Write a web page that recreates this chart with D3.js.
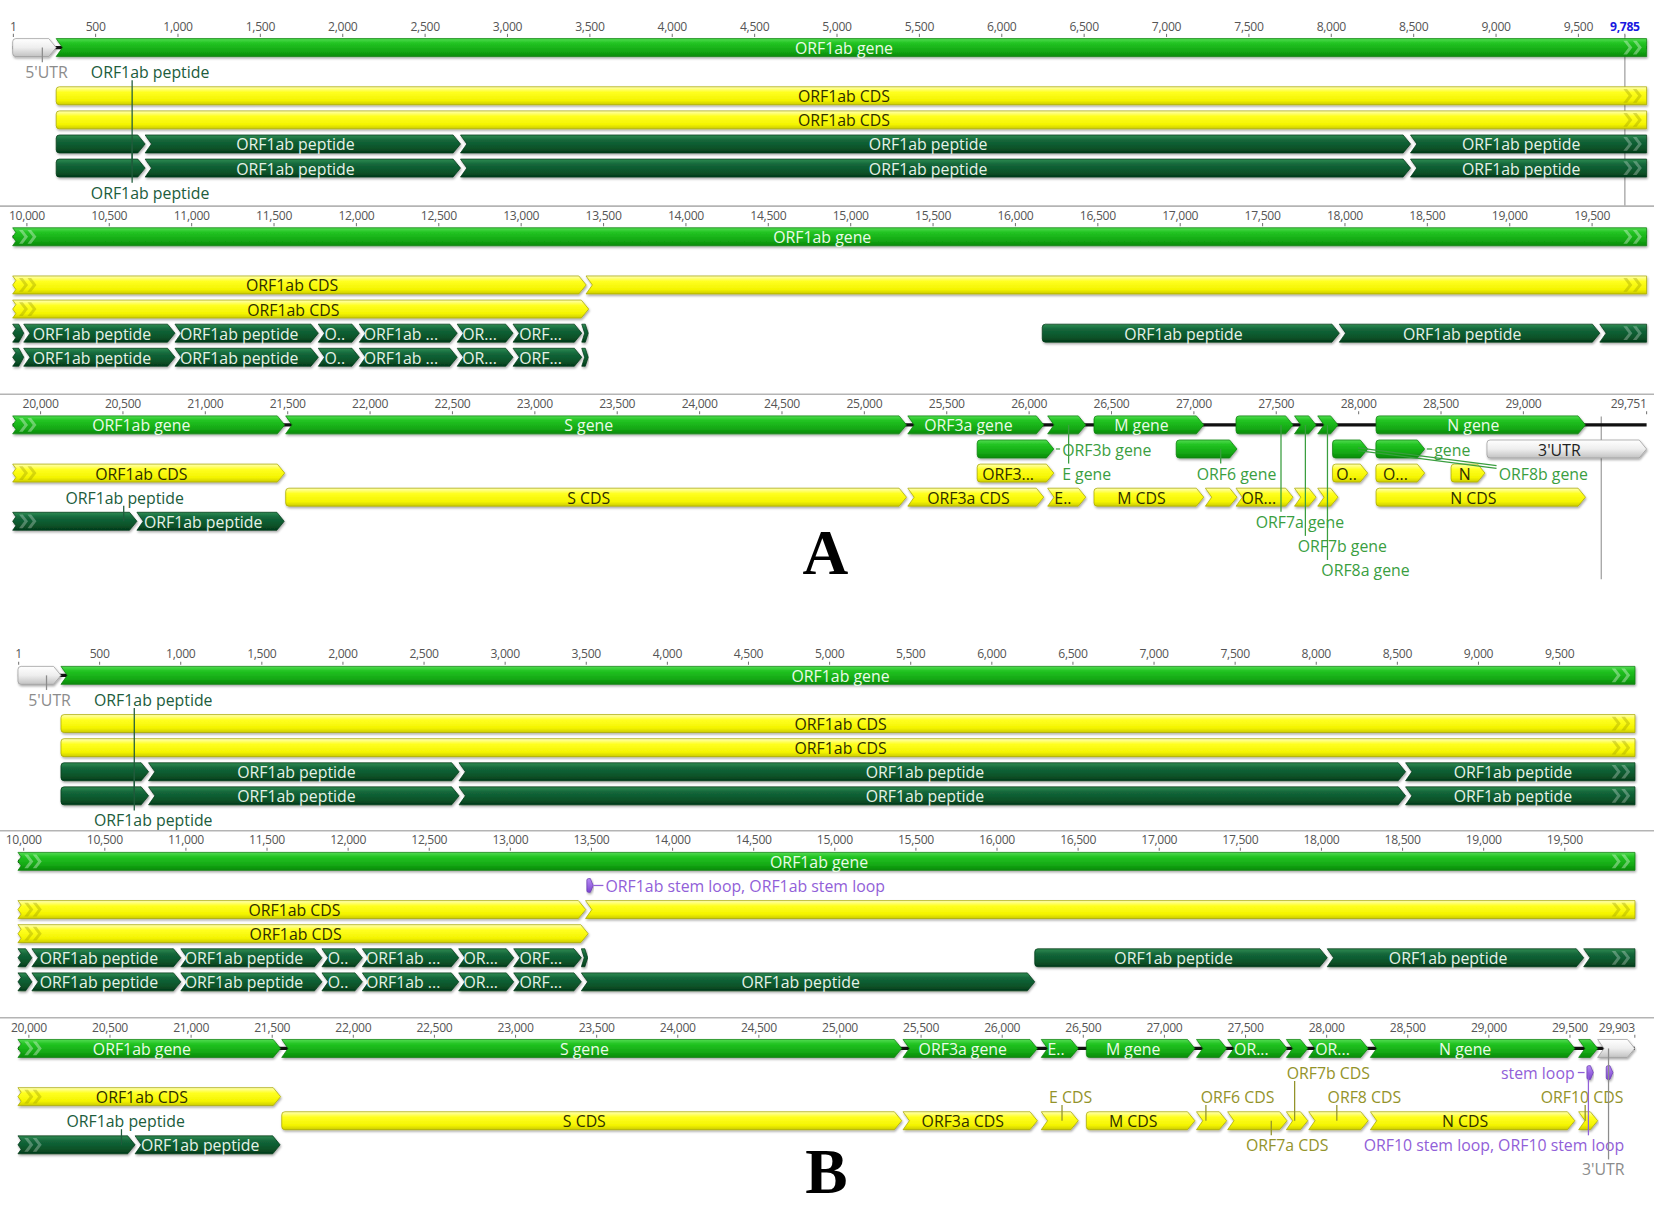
<!DOCTYPE html>
<html><head><meta charset="utf-8">
<script src="https://cdn.jsdelivr.net/npm/d3@7/dist/d3.min.js"></script>
<style>body{margin:0;background:#fff}svg{display:block}</style>
</head><body>
<svg id="c" width="1654" height="1207" viewBox="0 0 1565 1142"></svg>
<script>
// ================= DATA =================
const genomeLengthA = 29751;
const genomeLengthB = 29903;
const tickStep = 500;

// Panel A (SARS-CoV) — lanes: 0 gene, 1 gene(2nd), 2 CDS, 3 CDS, 4 peptide, 5 peptide
const genesA = [
  {name:"5'UTR", type:"utr", lane:0, start:1, end:264, label:""},
  {name:"ORF1ab gene", type:"gene", lane:0, start:265, end:21485, label:"ORF1ab gene"},
  {name:"S gene", type:"gene", lane:0, start:21492, end:25259, label:"S gene"},
  {name:"ORF3a gene", type:"gene", lane:0, start:25268, end:26092, label:"ORF3a gene"},
  {name:"E gene", type:"gene", lane:0, start:26117, end:26347, label:""},
  {name:"M gene", type:"gene", lane:0, start:26398, end:27063, label:"M gene"},
  {name:"ORF7a gene", type:"gene", lane:0, start:27260, end:27605, label:""},
  {name:"ORF7b gene", type:"gene", lane:0, start:27615, end:27745, label:""},
  {name:"ORF8a gene", type:"gene", lane:0, start:27756, end:27878, label:""},
  {name:"N gene", type:"gene", lane:0, start:28110, end:29380, label:"N gene"},
  {name:"ORF3b gene", type:"gene", lane:1, start:25689, end:26153, label:""},
  {name:"ORF6 gene", type:"gene", lane:1, start:26897, end:27265, label:""},
  {name:"ORF8b gene", type:"gene", lane:1, start:27846, end:28058, label:""},
  {name:"ORF9b gene", type:"gene", lane:1, start:28109, end:28404, label:""},
  {name:"3'UTR", type:"utr", lane:1, start:28783, end:29751, label:"3'UTR"}
];
const cdsA = [
  {name:"ORF1ab CDS", group:"orf1ab", lane:2, start:265, end:13398, label:"ORF1ab CDS"},
  {name:"ORF1ab CDS", group:"orf1ab", lane:2, start:13398, end:21485, label:"ORF1ab CDS"},
  {name:"ORF3b CDS", lane:2, start:25689, end:26153, label:"ORF3..."},
  {name:"ORF8b CDS", lane:2, start:27846, end:28058, label:"O.."},
  {name:"ORF9b CDS", lane:2, start:28109, end:28404, label:"O..."},
  {name:"N CDS 2", lane:2, start:28565, end:28770, label:"N"},
  {name:"ORF1a CDS", lane:3, start:265, end:13413, label:"ORF1ab CDS"},
  {name:"S CDS", lane:3, start:21492, end:25259, label:"S CDS"},
  {name:"ORF3a CDS", lane:3, start:25268, end:26092, label:"ORF3a CDS"},
  {name:"E CDS", lane:3, start:26117, end:26347, label:"E.."},
  {name:"M CDS", lane:3, start:26398, end:27063, label:"M CDS"},
  {name:"ORF6 CDS", lane:3, start:27074, end:27265, label:""},
  {name:"ORF7a CDS", lane:3, start:27260, end:27605, label:"OR..."},
  {name:"ORF7b CDS", lane:3, start:27615, end:27745, label:""},
  {name:"ORF8a CDS", lane:3, start:27756, end:27878, label:""},
  {name:"N CDS", lane:3, start:28110, end:29380, label:"N CDS"}
];
const peptidesA = [
  {name:"nsp1", start:265, end:804, label:"", lanes:[4,5]},
  {name:"nsp2", start:805, end:2718, label:"ORF1ab peptide", lanes:[4,5]},
  {name:"nsp3", start:2719, end:8484, label:"ORF1ab peptide", lanes:[4,5]},
  {name:"nsp4", start:8485, end:9984, label:"ORF1ab peptide", lanes:[4,5]},
  {name:"nsp5", start:9985, end:10902, label:"ORF1ab peptide", lanes:[4,5]},
  {name:"nsp6", start:10903, end:11772, label:"ORF1ab peptide", lanes:[4,5]},
  {name:"nsp7", start:11773, end:12021, label:"O..", lanes:[4,5]},
  {name:"nsp8", start:12022, end:12615, label:"ORF1ab ...", lanes:[4,5]},
  {name:"nsp9", start:12616, end:12954, label:"OR...", lanes:[4,5]},
  {name:"nsp10", start:12955, end:13371, label:"ORF...", lanes:[4,5]},
  {name:"nsp11", start:13372, end:13410, label:"", lanes:[4,5]},
  {name:"nsp13", start:16167, end:17969, label:"ORF1ab peptide", lanes:[4]},
  {name:"nsp14", start:17970, end:19550, label:"ORF1ab peptide", lanes:[4]},
  {name:"nsp15", start:19551, end:20588, label:"ORF1ab peptide", lanes:[4]},
  {name:"nsp16", start:20589, end:21482, label:"ORF1ab peptide", lanes:[4]}
];
const calloutsA = [
  {text:"5'UTR", kind:"utr", leaderBp:180, barLane:0, textBp:205, textLane:1, anchor:"middle"},
  {text:"ORF1ab peptide", kind:"pep", leaderBp:725, barLane:5, textBp:834, textLane:1, anchor:"middle"},
  {text:"ORF1ab peptide", kind:"pep", leaderBp:725, barLane:4, textBp:834, textLane:6, anchor:"middle"},
  {text:"ORF1ab peptide", kind:"pep", leaderBp:20508, barLane:4, textBp:20514, textLane:3, anchor:"middle"},
  {text:"ORF3b gene", kind:"gene", leaderBp:26153, barLane:1, textBp:26204, textLane:1, anchor:"start"},
  {text:"E gene", kind:"gene", leaderBp:26243, barLane:0, textBp:26204, textLane:2, anchor:"start"},
  {text:"ORF6 gene", kind:"gene", leaderBp:27166, barLane:1, textBp:27262, textLane:2, anchor:"middle"},
  {text:"ORF7a gene", kind:"gene", leaderBp:27532, barLane:0, textBp:27647, textLane:4, anchor:"middle"},
  {text:"ORF7b gene", kind:"gene", leaderBp:27680, barLane:0, textBp:27904, textLane:5, anchor:"middle"},
  {text:"ORF8a gene", kind:"gene", leaderBp:27814, barLane:0, textBp:28045, textLane:6, anchor:"middle"},
  {text:"gene", kind:"gene", leaderBp:28404, barLane:1, textBp:28462, textLane:1, anchor:"start"},
  {text:"ORF8b gene", kind:"gene", leaderBp:28000, barLane:1, textBp:28853, textLane:2, anchor:"start", diagonal:true}
];
const markersA = [{bp:9785, labelled:true}, {bp:29476, labelled:false}];

// Panel B (SARS-CoV-2)
const genesB = [
  {name:"5'UTR", type:"utr", lane:0, start:1, end:265, label:""},
  {name:"ORF1ab gene", type:"gene", lane:0, start:266, end:21555, label:"ORF1ab gene"},
  {name:"S gene", type:"gene", lane:0, start:21563, end:25384, label:"S gene"},
  {name:"ORF3a gene", type:"gene", lane:0, start:25393, end:26220, label:"ORF3a gene"},
  {name:"E gene", type:"gene", lane:0, start:26245, end:26472, label:"E.."},
  {name:"M gene", type:"gene", lane:0, start:26523, end:27191, label:"M gene"},
  {name:"ORF6 gene", type:"gene", lane:0, start:27202, end:27387, label:""},
  {name:"ORF7a gene", type:"gene", lane:0, start:27394, end:27759, label:"OR..."},
  {name:"ORF7b gene", type:"gene", lane:0, start:27756, end:27887, label:""},
  {name:"ORF8 gene", type:"gene", lane:0, start:27894, end:28259, label:"OR..."},
  {name:"N gene", type:"gene", lane:0, start:28274, end:29533, label:"N gene"},
  {name:"ORF10 gene", type:"gene", lane:0, start:29558, end:29674, label:""},
  {name:"3'UTR", type:"utr", lane:0, start:29675, end:29903, label:""}
];
const stemLoopsB = [
  {name:"ORF1ab stem loop", type:"stem", lane:1, start:13476, end:13503, label:""},
  {name:"ORF10 stem loop", type:"stem", lane:1, start:29609, end:29644, label:""},
  {name:"3'UTR stem loop", type:"stem", lane:1, start:29728, end:29768, label:""}
];
const cdsB = [
  {name:"ORF1ab CDS", group:"orf1ab", lane:2, start:266, end:13468, label:"ORF1ab CDS"},
  {name:"ORF1ab CDS", group:"orf1ab", lane:2, start:13468, end:21555, label:"ORF1ab CDS"},
  {name:"ORF1a CDS", lane:3, start:266, end:13483, label:"ORF1ab CDS"},
  {name:"S CDS", lane:3, start:21563, end:25384, label:"S CDS"},
  {name:"ORF3a CDS", lane:3, start:25393, end:26220, label:"ORF3a CDS"},
  {name:"E CDS", lane:3, start:26245, end:26472, label:""},
  {name:"M CDS", lane:3, start:26523, end:27191, label:"M CDS"},
  {name:"ORF6 CDS", lane:3, start:27202, end:27387, label:""},
  {name:"ORF7a CDS", lane:3, start:27394, end:27759, label:""},
  {name:"ORF7b CDS", lane:3, start:27756, end:27887, label:""},
  {name:"ORF8 CDS", lane:3, start:27894, end:28259, label:""},
  {name:"N CDS", lane:3, start:28274, end:29533, label:"N CDS"},
  {name:"ORF10 CDS", lane:3, start:29558, end:29674, label:""}
];
const peptidesB = [
  {name:"nsp1", start:266, end:805, label:"", lanes:[4,5]},
  {name:"nsp2", start:806, end:2719, label:"ORF1ab peptide", lanes:[4,5]},
  {name:"nsp3", start:2720, end:8554, label:"ORF1ab peptide", lanes:[4,5]},
  {name:"nsp4", start:8555, end:10054, label:"ORF1ab peptide", lanes:[4,5]},
  {name:"nsp5", start:10055, end:10972, label:"ORF1ab peptide", lanes:[4,5]},
  {name:"nsp6", start:10973, end:11842, label:"ORF1ab peptide", lanes:[4,5]},
  {name:"nsp7", start:11843, end:12091, label:"O..", lanes:[4,5]},
  {name:"nsp8", start:12092, end:12685, label:"ORF1ab ...", lanes:[4,5]},
  {name:"nsp9", start:12686, end:13024, label:"OR...", lanes:[4,5]},
  {name:"nsp10", start:13025, end:13441, label:"ORF...", lanes:[4,5]},
  {name:"nsp11", start:13442, end:13480, label:"", lanes:[4]},
  {name:"nsp12", start:13442, end:16236, label:"ORF1ab peptide", lanes:[5]},
  {name:"nsp13", start:16237, end:18039, label:"ORF1ab peptide", lanes:[4]},
  {name:"nsp14", start:18040, end:19620, label:"ORF1ab peptide", lanes:[4]},
  {name:"nsp15", start:19621, end:20658, label:"ORF1ab peptide", lanes:[4]},
  {name:"nsp16", start:20659, end:21552, label:"ORF1ab peptide", lanes:[4]}
];
const calloutsB = [
  {text:"5'UTR", kind:"utr", leaderBp:176, barLane:0, textBp:195, textLane:1, anchor:"middle"},
  {text:"ORF1ab peptide", kind:"pep", leaderBp:717, barLane:5, textBp:834, textLane:1, anchor:"middle"},
  {text:"ORF1ab peptide", kind:"pep", leaderBp:717, barLane:4, textBp:834, textLane:6, anchor:"middle"},
  {text:"ORF1ab stem loop, ORF1ab stem loop", kind:"stem", leaderBp:13503, barLane:1, textBp:13590, textLane:1, anchor:"start"},
  {text:"stem loop", kind:"stem", leaderBp:29600, barLane:1, textBp:29532, textLane:1, anchor:"end"},
  {text:"E CDS", kind:"cds", leaderBp:26372, barLane:3, textBp:26425, textLane:2, anchor:"middle"},
  {text:"ORF6 CDS", kind:"cds", leaderBp:27259, barLane:3, textBp:27454, textLane:2, anchor:"middle"},
  {text:"ORF7b CDS", kind:"cds", leaderBp:27806, barLane:3, textBp:28014, textLane:1, anchor:"middle"},
  {text:"ORF8 CDS", kind:"cds", leaderBp:28066, barLane:3, textBp:28236, textLane:2, anchor:"middle"},
  {text:"ORF10 CDS", kind:"cds", leaderBp:29597, barLane:3, textBp:29578, textLane:2, anchor:"middle"},
  {text:"ORF7a CDS", kind:"cds", leaderBp:27662, barLane:3, textBp:27760, textLane:4, anchor:"middle"},
  {text:"ORF10 stem loop, ORF10 stem loop", kind:"stem", leaderBp:29617, barLane:1, textBp:29838, textLane:4, anchor:"end"},
  {text:"3'UTR", kind:"utr", leaderBp:29741, barLane:0, textBp:29708, textLane:5, anchor:"middle"},
  {text:"ORF1ab peptide", kind:"pep", leaderBp:20574, barLane:4, textBp:20600, textLane:3, anchor:"middle"}
];
const markersB = [];

// ================= RENDER =================
const svg = d3.select("#c");
const FONT = "'Open Sans','Noto Sans','DejaVu Sans',sans-serif";
const lanePitch = 22.8, barH = 17;
const kindColor = {gene:"#3a9e3f", cds:"#93932a", pep:"#205c3c", utr:"#8c8c8c", stem:"#9160d8"};
const textFill = {gene:"#eafbe8", cds:"#2e2e00", pep:"#e6f2e8", utr:"#222", stem:"#fff"};
const strokeCol = {gene:"#0c7f0c", cds:"#a8a800", pep:"#043a18", utr:"#9a9a9a", stem:"#6a3db0"};
const chevFill = {gene:"rgba(255,255,255,0.35)", cds:"rgba(150,150,0,0.35)", pep:"rgba(255,255,255,0.28)", utr:"rgba(0,0,0,0.15)", stem:"rgba(255,255,255,0.3)"};

const defs = svg.append("defs");
function grad(id, stops){
  const g = defs.append("linearGradient").attr("id", id).attr("x1",0).attr("y1",0).attr("x2",0).attr("y2",1);
  stops.forEach(s => g.append("stop").attr("offset", s[0]).attr("stop-color", s[1]));
}
grad("g-gene", [[0,"#52dc52"],[0.25,"#22c422"],[0.7,"#14a814"],[1,"#0a8a0a"]]);
grad("g-cds", [[0,"#ffffb8"],[0.3,"#ffff20"],[0.75,"#f4f400"],[1,"#cccc00"]]);
grad("g-pep", [[0,"#2f8b52"],[0.3,"#13663a"],[0.75,"#0a5228"],[1,"#043a1a"]]);
grad("g-utr", [[0,"#ffffff"],[0.5,"#eeeeee"],[1,"#c2c2c2"]]);
grad("g-stem", [[0,"#b88af5"],[1,"#7c45d0"]]);
const f = defs.append("filter").attr("id","sh").attr("x","-5%").attr("y","-40%").attr("width","110%").attr("height","190%");
f.append("feDropShadow").attr("dx",0.8).attr("dy",1.5).attr("stdDeviation",0.9).attr("flood-color","#000").attr("flood-opacity",0.35);

function shapePath(x0, x1, yc, h, left, right){
  const y0 = yc - h/2, y1 = yc + h/2, w = Math.max(x1 - x0, 1);
  const t = Math.min(7, w*0.45), r = Math.min(3, w/4);
  let p = left === "round" ? `M${x0+r},${y0}` : `M${x0},${y0}`;
  if (right === "arrow") p += `L${x1-t},${y0}L${x1},${yc}L${x1-t},${y1}`;
  else p += `L${x1},${y0}L${x1},${y1}`;
  if (left === "round") p += `L${x0+r},${y1}Q${x0},${y1} ${x0},${y1-r}L${x0},${y0+r}Q${x0},${y0} ${x0+r},${y0}Z`;
  else if (left === "notch") p += `L${x0},${y1}L${x0+Math.min(t,6)},${yc}Z`;
  else p += `L${x0},${y1}L${x0+3},${y0+h*0.75}L${x0},${yc}L${x0+3},${y0+h*0.25}Z`;
  return p;
}
function chevron(a, yc, h){
  const y0 = yc - h/2 + 2, y1 = yc + h/2 - 2;
  return `M${a},${y0}L${a+5},${yc}L${a},${y1}L${a+3.5},${y1}L${a+8.5},${yc}L${a+3.5},${y0}Z`;
}

function drawPanel(P){
  const rowLen = Math.ceil(P.genomeLength / 3);
  const g = svg.append("g");
  const recs = [];
  P.genes.forEach(d => recs.push({...d}));
  (P.stems||[]).forEach(d => recs.push({...d}));
  P.cds.forEach(d => recs.push({...d, type:"cds"}));
  P.peptides.forEach(d => d.lanes.forEach(l => recs.push({name:d.name, start:d.start, end:d.end, label:d.label, lane:l, type:"pep"})));
  recs.forEach((d,i) => { if(!d.group) d.group = "f"+i; });

  for (let r = 0; r < 3; r++){
    const rs = r*rowLen, re = Math.min((r+1)*rowLen, P.genomeLength);
    const ry = P.rowY[r];
    const laneY = l => ry + l*lanePitch;
    const x = d3.scaleLinear().domain([rs, rs+rowLen]).range(P.xr);
    const rg = g.append("g");
    const lineLayer = rg.append("g");
    const barLayer = rg.append("g");
    const textLayer = rg.append("g");

    if (r > 0) lineLayer.append("line").attr("x1",0).attr("x2",1565).attr("y1",ry-29).attr("y2",ry-29)
      .attr("stroke","#b4b4b4").attr("stroke-width",1.5);

    let vals = d3.range(Math.ceil((rs+1)/tickStep)*tickStep, re+1, tickStep);
    if (r === 0) vals.unshift(1);
    const specials = [];
    if (r === 2) specials.push({v:re, txt:d3.format(",")(re), color:"#555", anchor:"end", weight:"normal"});
    P.markers.filter(m => m.labelled && m.bp > rs && m.bp <= re).forEach(m => specials.push({v:m.bp, txt:d3.format(",")(m.bp), color:"#1818e0", anchor:"middle", weight:"bold"}));
    vals = vals.filter(v => specials.every(s => {
      const sx = x(s.v);
      const [a,b] = s.anchor==="end" ? [sx-36, sx] : [sx-18, sx+18];
      return (x(v)+17 < a || x(v)-17 > b) && v !== s.v;
    }));
    const ax = d3.axisTop(x).tickValues(vals).tickSize(3).tickPadding(3)
      .tickFormat(v => v === 1 ? "1" : d3.format(",")(v));
    const axg = lineLayer.append("g").attr("transform", `translate(0,${ry-10})`).call(ax);
    axg.select(".domain").remove();
    axg.selectAll(".tick line").attr("stroke","#777");
    axg.selectAll(".tick text").attr("fill","#555").style("font-family",FONT).style("font-size","11.5px").attr("letter-spacing","-0.3");
    specials.forEach(s => {
      lineLayer.append("line").attr("x1",x(s.v)).attr("x2",x(s.v)).attr("y1",ry-13).attr("y2",ry-10).attr("stroke","#777");
      lineLayer.append("text").attr("x",x(s.v)).attr("y",ry-16).attr("text-anchor",s.anchor)
        .attr("fill",s.color).style("font-family",FONT).style("font-size","11.5px").style("font-weight",s.weight).attr("letter-spacing","-0.3").text(s.txt);
    });

    P.markers.filter(m => m.bp > rs && m.bp <= re).forEach(m => {
      lineLayer.append("line").attr("x1",x(m.bp)).attr("x2",x(m.bp))
        .attr("y1", m.labelled ? ry-12 : ry-8).attr("y2", m.labelled ? ry+150 : ry+146)
        .attr("stroke","#a8a8a8").attr("stroke-width",1.3);
    });

    lineLayer.append("line").attr("x1",x(rs)).attr("x2",x(re)).attr("y1",laneY(0)).attr("y2",laneY(0))
      .attr("stroke","#111").attr("stroke-width",3);

    const labelled = new Set();
    const sorted = recs.slice().sort((a,b) => a.lane - b.lane || a.start - b.start);
    sorted.forEach(d => {
      if (d.end <= rs || d.start-1 >= re) return;
      const ps = Math.max(d.start-1, rs), pe = Math.min(d.end, re);
      const contL = d.start-1 < rs, contR = d.end > re;
      const x0 = x(ps), x1 = Math.max(x(pe), x0 + (d.type==="stem"?6:2));
      const adj = recs.some(o => o !== d && o.lane === d.lane && o.end <= d.end && o.start < d.start && Math.abs(o.end - (d.start-1)) <= 30);
      const left = contL ? "cont" : (adj ? "notch" : "round");
      const right = contR ? "cont" : "arrow";
      const yc = laneY(d.lane);
      const h = d.type === "stem" ? 13 : barH;
      barLayer.append("path").attr("d", shapePath(x0, x1, yc, h, left, right))
        .attr("fill", `url(#g-${d.type})`).attr("stroke", strokeCol[d.type]).attr("stroke-width",0.7)
        .attr("filter","url(#sh)");
      if (contL && x1 - x0 > 26) [x0+6, x0+14].forEach(a => barLayer.append("path").attr("d", chevron(a, yc, h)).attr("fill", chevFill[d.type]));
      if (contR && x1 - x0 > 26) [x1-22, x1-13].forEach(a => barLayer.append("path").attr("d", chevron(a, yc, h)).attr("fill", chevFill[d.type]));
      const key = d.group + "|" + d.lane;
      if (d.label && !labelled.has(key)){
        labelled.add(key);
        const w = x1 - x0;
        const t = barLayer.append("text").attr("x",(x0+x1)/2 - Math.min(7, w*0.1)).attr("y",yc+0.5).attr("text-anchor","middle")
          .attr("dominant-baseline","central").attr("fill",textFill[d.type])
          .style("font-family",FONT).style("font-size","15px").text(d.label);
        const tw = t.node().getComputedTextLength();
        const need = tw + 6 + (contL ? 40 : 0) + (contR ? 16 : 0);
        if (need > w) t.remove();
      }
    });

    P.callouts.filter(c => Math.floor((c.leaderBp-1)/rowLen) === r).forEach(c => {
      const col = kindColor[c.kind];
      const lx = x(c.leaderBp), tx = x(c.textBp), ty = laneY(c.textLane);
      textLayer.append("text").attr("x",tx).attr("y",ty+0.5).attr("text-anchor",c.anchor)
        .attr("dominant-baseline","central").attr("fill",col)
        .style("font-family",FONT).style("font-size","15px").text(c.text);
      const by = laneY(c.barLane);
      if (c.diagonal){
        [0,2.6].forEach(o => textLayer.append("line").attr("x1",lx).attr("y1",by-1+o).attr("x2",tx-2).attr("y2",ty-7+o)
          .attr("stroke",col).attr("stroke-width",1.1));
      } else if (c.barLane === c.textLane){
        const a = c.anchor === "start" ? lx+2 : tx+3;
        const b = c.anchor === "start" ? tx-2 : lx-1;
        textLayer.append("line").attr("x1",a).attr("x2",b).attr("y1",ty).attr("y2",ty).attr("stroke",col).attr("stroke-width",1.2);
      } else {
        const y2 = c.barLane < c.textLane ? ty - 9 : ty + 8;
        textLayer.append("line").attr("x1",lx).attr("x2",lx).attr("y1",by).attr("y2",y2)
          .attr("stroke",col).attr("stroke-width",1.2);
      }
    });
  }
  svg.append("text").attr("x",P.letterX).attr("y",P.letterY).attr("text-anchor","middle")
    .style("font-family","'Liberation Serif','Times New Roman',serif").style("font-weight","bold").style("font-size","60px")
    .attr("fill","#000").text(P.letter);
}

drawPanel({genomeLength:genomeLengthA, xr:[12,1558], rowY:[45,224,402], genes:genesA, cds:cdsA, peptides:peptidesA,
  callouts:calloutsA, markers:markersA, letter:"A", letterX:781, letterY:543});
drawPanel({genomeLength:genomeLengthB, xr:[17,1547], rowY:[639,815,992], genes:genesB, stems:stemLoopsB, cds:cdsB, peptides:peptidesB,
  callouts:calloutsB, markers:markersB, letter:"B", letterX:782, letterY:1129});
</script>
</body></html>
